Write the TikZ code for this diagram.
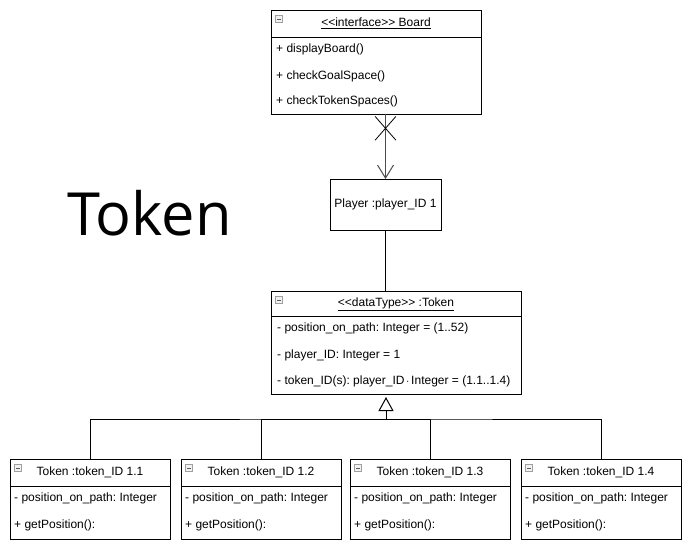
\documentclass[tikz,border=0pt]{standalone}
\usepackage{fontspec}
\setmainfont{Liberation Sans}
\newfontfamily\bigfont{Open Sans}
\usetikzlibrary{arrows.meta,shapes.misc}
\frenchspacing

\newcommand\stereo[1]{{<}{<}#1{>}{>}}

\tikzset{
  hdr/.style={draw, line width=1, outer sep=0, anchor=north west, minimum height=27, inner sep=0, text height=8.5, text depth=2.5},
  body/.style={draw, line width=1, outer sep=0, anchor=north west, inner sep=0},
  row/.style={anchor=west, inner sep=0, text height=8.5, text depth=2.5},
  icon/.style={draw=gray!75, fill=gray!10, line width=0.7, minimum size=7, inner sep=0,
    path picture={\draw[gray!70!black, line width=0.9] ([xshift=1.5]path picture bounding box.west) -- ([xshift=-1.5]path picture bounding box.east);}},
  link/.style={line width=1},
}

\begin{document}
\begin{tikzpicture}[x=1pt, y=-1pt, font=\fontsize{12}{14}\selectfont]

\useasboundingbox (0,0) rectangle (695,546);

\node[hdr, minimum width=210] (boardh) at (271,10) {\underline{\stereo{interface} Board}};
\node[body, minimum width=210, minimum height=77] (boardb) at (boardh.south west) {};
\node[icon] (boardi) at ([xshift=8,yshift=-9]boardh.north west) {};
\node[row] (board1) at (276,49) {+ displayBoard()};
\node[row] (board2) at (276,76) {+ checkGoalSpace()};
\node[row] (board3) at (276,101) {+ checkTokenSpaces()};

\node[body, minimum width=111, minimum height=51] (player) at (330,179) {};
\node[row, anchor=center] (playert) at (player.center) {Player :player\_ID 1};

\node[anchor=base west, inner sep=0, font=\bigfont\fontsize{59.5}{60}\selectfont] (title) at (67,235) {Token};

\node[hdr, minimum width=250, minimum height=25] (tokh) at (271,291) {\underline{\stereo{dataType} :Token}};
\node[body, minimum width=250, minimum height=78] (tokb) at (tokh.south west) {};
\node[icon] (toki) at ([xshift=8,yshift=-9]tokh.north west) {};
\node[row] (tok1) at (277,328) {- position\_on\_path: Integer = (1..52)};
\node[row] (tok2) at (277,355) {- player\_ID: Integer = 1};
\node[row] (tok3) at (277,381) {- token\_ID(s): player\_ID{\fontsize{10}{10}\selectfont\,·\,}Integer = (1.1..1.4)};

\node[hdr, minimum width=160] (t1h) at (10,459) {Token :token\_ID 1.1};
\node[body, minimum width=160, minimum height=53] (t1b) at (t1h.south west) {};
\node[icon] (t1i) at ([xshift=8,yshift=-9]t1h.north west) {};
\node[row] (t1r1) at (14,498) {- position\_on\_path: Integer};
\node[row] (t1r2) at (14,525) {+ getPosition():};

\node[hdr, minimum width=160] (t2h) at (181,459) {Token :token\_ID 1.2};
\node[body, minimum width=160, minimum height=53] (t2b) at (t2h.south west) {};
\node[icon] (t2i) at ([xshift=8,yshift=-9]t2h.north west) {};
\node[row] (t2r1) at (185,498) {- position\_on\_path: Integer};
\node[row] (t2r2) at (185,525) {+ getPosition():};

\node[hdr, minimum width=160] (t3h) at (350,459) {Token :token\_ID 1.3};
\node[body, minimum width=160, minimum height=53] (t3b) at (t3h.south west) {};
\node[icon] (t3i) at ([xshift=8,yshift=-9]t3h.north west) {};
\node[row] (t3r1) at (354,498) {- position\_on\_path: Integer};
\node[row] (t3r2) at (354,525) {+ getPosition():};

\node[hdr, minimum width=160] (t4h) at (521,459) {Token :token\_ID 1.4};
\node[body, minimum width=160, minimum height=53] (t4b) at (t4h.south west) {};
\node[icon] (t4i) at ([xshift=8,yshift=-9]t4h.north west) {};
\node[row] (t4r1) at (525,498) {- position\_on\_path: Integer};
\node[row] (t4r2) at (525,525) {+ getPosition():};

\draw[link, draw=gray!60!black, -{Straight Barb[length=13, width=16]}] (boardb.south -| player.north) -- node[pos=0.22, draw=black, cross out, minimum width=20, minimum height=23, inner sep=0, line width=0.8] (nav) {} (player.north);
\draw[link] (player.south) -- (player.south |- tokh.north);

\coordinate (fork) at (386,419);
\draw[link, -{Triangle[open, length=14, width=15]}] (fork) -- ([yshift=-3]fork |- tokb.south);
\draw[link] (t1h.north) |- (fork) -| (t4h.north);
\draw[link] (t2h.north) |- (fork);
\draw[link] (t3h.north) |- (fork);

\end{tikzpicture}
\end{document}
